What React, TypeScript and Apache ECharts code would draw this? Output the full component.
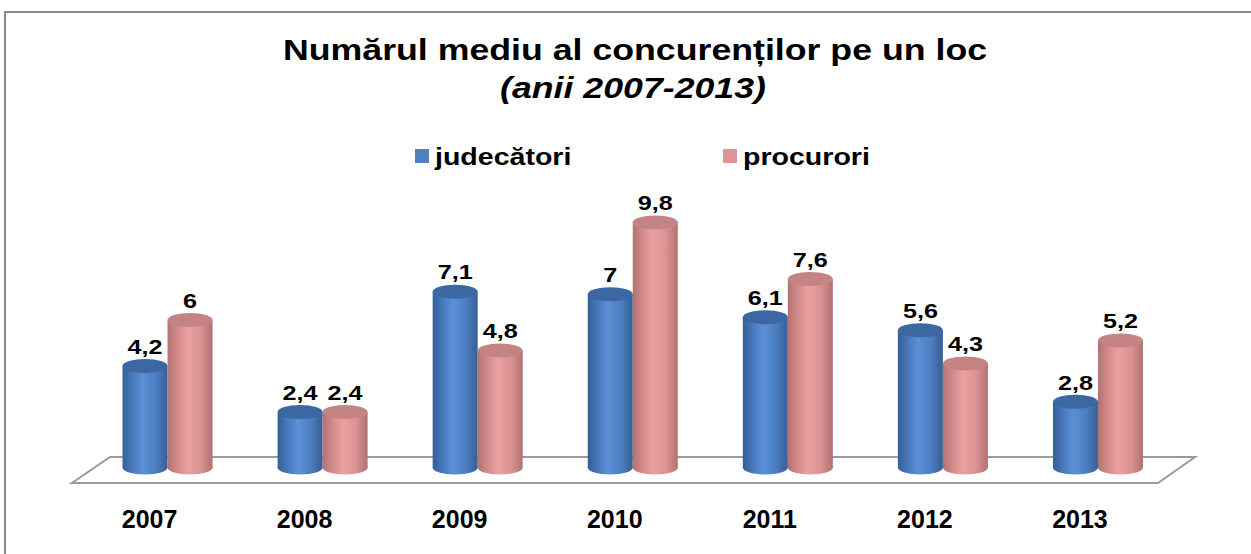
import React, { useEffect, useRef } from "react";
import * as echarts from "echarts";

const years = ["2007", "2008", "2009", "2010", "2011", "2012", "2013"];
const judecatori = [4.2, 2.4, 7.1, 7, 6.1, 5.6, 2.8];
const procurori = [6, 2.4, 4.8, 9.8, 7.6, 4.3, 5.2];
const seriesNames = ["judecători", "procurori"];
const titleLine1 = "Numărul mediu al concurenților pe un loc";
const titleLine2 = "(anii 2007-2013)";

const FONT = "'Liberation Sans', Arial, sans-serif";

const palettes = [
  {
    body: ["#345f98", "#4a7cc0", "#5a90d6", "#4b7dc0", "#365f93"],
    top: "#3b68a3",
  },
  {
    body: ["#b27272", "#d68d8d", "#eba1a1", "#d99191", "#b07171"],
    top: "#c58484",
  },
];

function fmt(v: number) {
  return String(v).replace(".", ",");
}

function makeRender(si: number) {
  return (params: any, api: any) => {
    const cat = api.value(0);
    const val = api.value(1);
    const top = api.coord([cat, val]);
    const base = api.coord([cat, 0]);
    const rx = 22.5;
    const ry = 7;
    const cx = top[0] + (si === 0 ? -rx : rx);
    const by = base[1] - 6;
    const ty = top[1];
    const p = palettes[si];
    const grad = new echarts.graphic.LinearGradient(0, 0, 1, 0, [
      { offset: 0, color: p.body[0] },
      { offset: 0.25, color: p.body[1] },
      { offset: 0.45, color: p.body[2] },
      { offset: 0.75, color: p.body[3] },
      { offset: 1, color: p.body[4] },
    ]);
    return {
      type: "group",
      children: [
        {
          type: "ellipse",
          shape: { cx, cy: by, rx, ry },
          style: { fill: grad },
        },
        {
          type: "rect",
          shape: { x: cx - rx, y: ty, width: rx * 2, height: by - ty },
          style: { fill: grad },
        },
        {
          type: "ellipse",
          shape: { cx, cy: ty, rx, ry },
          style: { fill: p.top },
        },
        {
          type: "text",
          x: cx,
          y: ty - 9,
          scaleX: 1.2,
          style: {
            text: fmt(val),
            align: "center",
            verticalAlign: "bottom",
            fill: "#000",
            font: `bold 21px ${FONT}`,
          },
        },
      ],
    };
  };
}

export default function App() {
  const ref = useRef<HTMLDivElement>(null);
  useEffect(() => {
    if (!ref.current) return;
    const chart = echarts.init(ref.current, undefined, { renderer: "svg" });
    const legendItems: any[] = [];
    const legendX = [415, 723];
    seriesNames.forEach((n, i) => {
      legendItems.push({
        type: "rect",
        shape: { x: legendX[i], y: 149, width: 14, height: 14 },
        style: { fill: i === 0 ? "#4f81bd" : "#e09595" },
        z: 5,
      });
      legendItems.push({
        type: "text",
        x: legendX[i] + 20,
        y: 157,
        scaleX: 1.19,
        style: {
          text: n,
          align: "left",
          verticalAlign: "middle",
          fill: "#000",
          font: `bold 24px ${FONT}`,
        },
        z: 5,
      });
    });
    chart.setOption({
      animation: false,
      backgroundColor: "#fff",
      grid: { left: 90, right: 75.5, top: 166.3, bottom: 80.5, containLabel: false },
      xAxis: {
        type: "category",
        data: years,
        axisLine: { show: false },
        axisTick: { show: false },
        splitLine: { show: false },
        axisLabel: {
          color: "#000",
          fontFamily: FONT,
          fontWeight: "bold",
          fontSize: 25,
          margin: 33,
          padding: [0, 36, 0, 0],
        },
      },
      yAxis: {
        type: "value",
        min: 0,
        max: 12,
        interval: 2,
        show: false,
      },
      graphic: [
        {
          type: "rect",
          shape: { x: 5, y: 12, width: 1300, height: 600 },
          style: { fill: "none", stroke: "#8a8a8a", lineWidth: 2 },
          z: 0,
        },
        {
          type: "polygon",
          shape: { points: [[110, 457], [1195, 457], [1158, 483], [72, 483]] },
          style: { fill: "#fff", stroke: "#9a9a9a", lineWidth: 2 },
          z: 0,
        },
        {
          type: "text",
          x: 635,
          y: 50,
          scaleX: 1.19,
          style: {
            text: titleLine1,
            align: "center",
            verticalAlign: "middle",
            fill: "#000",
            font: `bold 30px ${FONT}`,
          },
        },
        {
          type: "text",
          x: 633,
          y: 88,
          scaleX: 1.19,
          style: {
            text: titleLine2,
            align: "center",
            verticalAlign: "middle",
            fill: "#000",
            font: `italic bold 30px ${FONT}`,
          },
        },
        ...legendItems,
      ],
      series: [
        {
          type: "custom",
          name: seriesNames[0],
          renderItem: makeRender(0),
          data: judecatori.map((v, i) => [i, v]),
          encode: { x: 0, y: 1 },
          z: 3,
        },
        {
          type: "custom",
          name: seriesNames[1],
          renderItem: makeRender(1),
          data: procurori.map((v, i) => [i, v]),
          encode: { x: 0, y: 1 },
          z: 4,
        },
      ],
    });
    return () => chart.dispose();
  }, []);
  return (
    <div
      ref={ref}
      style={{ position: "fixed", left: 0, top: 0, width: 1251, height: 554 }}
    />
  );
}
